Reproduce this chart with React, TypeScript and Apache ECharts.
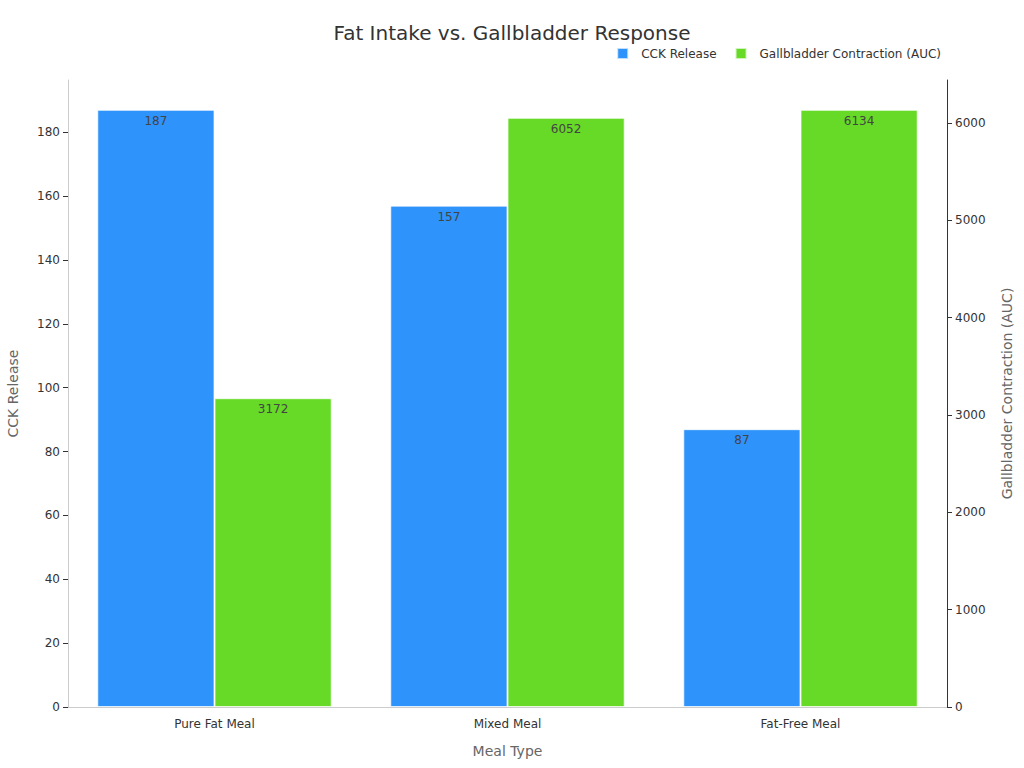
import React, { useEffect, useRef } from "react";
import * as echarts from "echarts";

const CATEGORIES = ["Pure Fat Meal", "Mixed Meal", "Fat-Free Meal"];
const CCK_RELEASE = [187, 157, 87];
const GB_CONTRACTION = [3172, 6052, 6134];

const FONT = "DejaVu Sans, sans-serif";

const App: React.FC = () => {
    const ref = useRef<HTMLDivElement | null>(null);

    useEffect(() => {
        document.body.style.margin = "0";
        if (!ref.current) return;
        const inst = echarts.init(ref.current, null, { renderer: "svg" });

        const leftMax = Math.max(...CCK_RELEASE) * 1.05;
        const rightMax = Math.max(...GB_CONTRACTION) * 1.05;

        inst.setOption({
            animation: false,
            textStyle: { fontFamily: FONT },
            title: {
                text: "Fat Intake vs. Gallbladder Response",
                left: "center",
                top: 18,
                textStyle: { fontSize: 20, fontWeight: "normal", color: "#333", fontFamily: FONT },
            },
            legend: {
                right: 78,
                top: 42,
                itemWidth: 11,
                itemHeight: 11,
                itemGap: 18,
                icon: "rect",
                textStyle: { fontSize: 12, color: "#333", fontFamily: FONT, padding: [0, 0, 0, 8] },
                data: ["CCK Release", "Gallbladder Contraction (AUC)"],
            },
            grid: {
                left: 68,
                right: 77,
                top: 80,
                bottom: 61,
                containLabel: false,
                outerBoundsMode: "none",
            },
            xAxis: {
                type: "category",
                data: CATEGORIES,
                name: "Meal Type",
                nameLocation: "middle",
                nameGap: 37,
                nameTextStyle: { fontSize: 14, color: "#666" },
                axisLine: { lineStyle: { color: "#ccc" } },
                axisTick: { alignWithLabel: true, lineStyle: { color: "#333" } },
                axisLabel: { color: "#333", fontSize: 12, margin: 11 },
            },
            yAxis: [
                {
                    type: "value",
                    min: 0,
                    max: leftMax,
                    interval: 20,
                    name: "CCK Release",
                    nameLocation: "middle",
                    nameGap: 48,
                    nameTextStyle: { fontSize: 14, color: "#666" },
                    axisLine: { show: true, lineStyle: { color: "#ccc" } },
                    axisTick: { show: true, length: 5, lineStyle: { color: "#333" } },
                    axisLabel: { color: "#333", fontSize: 12, showMaxLabel: false },
                    splitLine: { show: false },
                },
                {
                    type: "value",
                    min: 0,
                    max: rightMax,
                    interval: 1000,
                    name: "Gallbladder Contraction (AUC)",
                    nameLocation: "middle",
                    nameGap: 53,
                    nameTextStyle: { fontSize: 14, color: "#666" },
                    axisLine: { show: true, lineStyle: { color: "#333" } },
                    axisTick: { show: true, length: 5, lineStyle: { color: "#333" } },
                    axisLabel: {
                        color: "#333",
                        fontSize: 12,
                        showMaxLabel: false,
                        formatter: (v: number) => String(v),
                    },
                    splitLine: { show: false },
                },
            ],
            series: [
                {
                    name: "CCK Release",
                    type: "bar",
                    yAxisIndex: 0,
                    data: CCK_RELEASE,
                    barGap: "0%",
                    barCategoryGap: "20%",
                    itemStyle: { color: "#2E93FA", borderColor: "rgba(255,255,255,0.7)", borderWidth: 1 },
                    label: { show: true, position: "insideTop", color: "#444", fontSize: 12, distance: 5 },
                },
                {
                    name: "Gallbladder Contraction (AUC)",
                    type: "bar",
                    yAxisIndex: 1,
                    data: GB_CONTRACTION,
                    itemStyle: { color: "#66DA26", borderColor: "rgba(255,255,255,0.7)", borderWidth: 1 },
                    label: { show: true, position: "insideTop", color: "#444", fontSize: 12, distance: 5 },
                },
            ],
        });

        return () => inst.dispose();
    }, []);

    return <div ref={ref} style={{ width: 1024, height: 768 }} />;
};

export default App;
